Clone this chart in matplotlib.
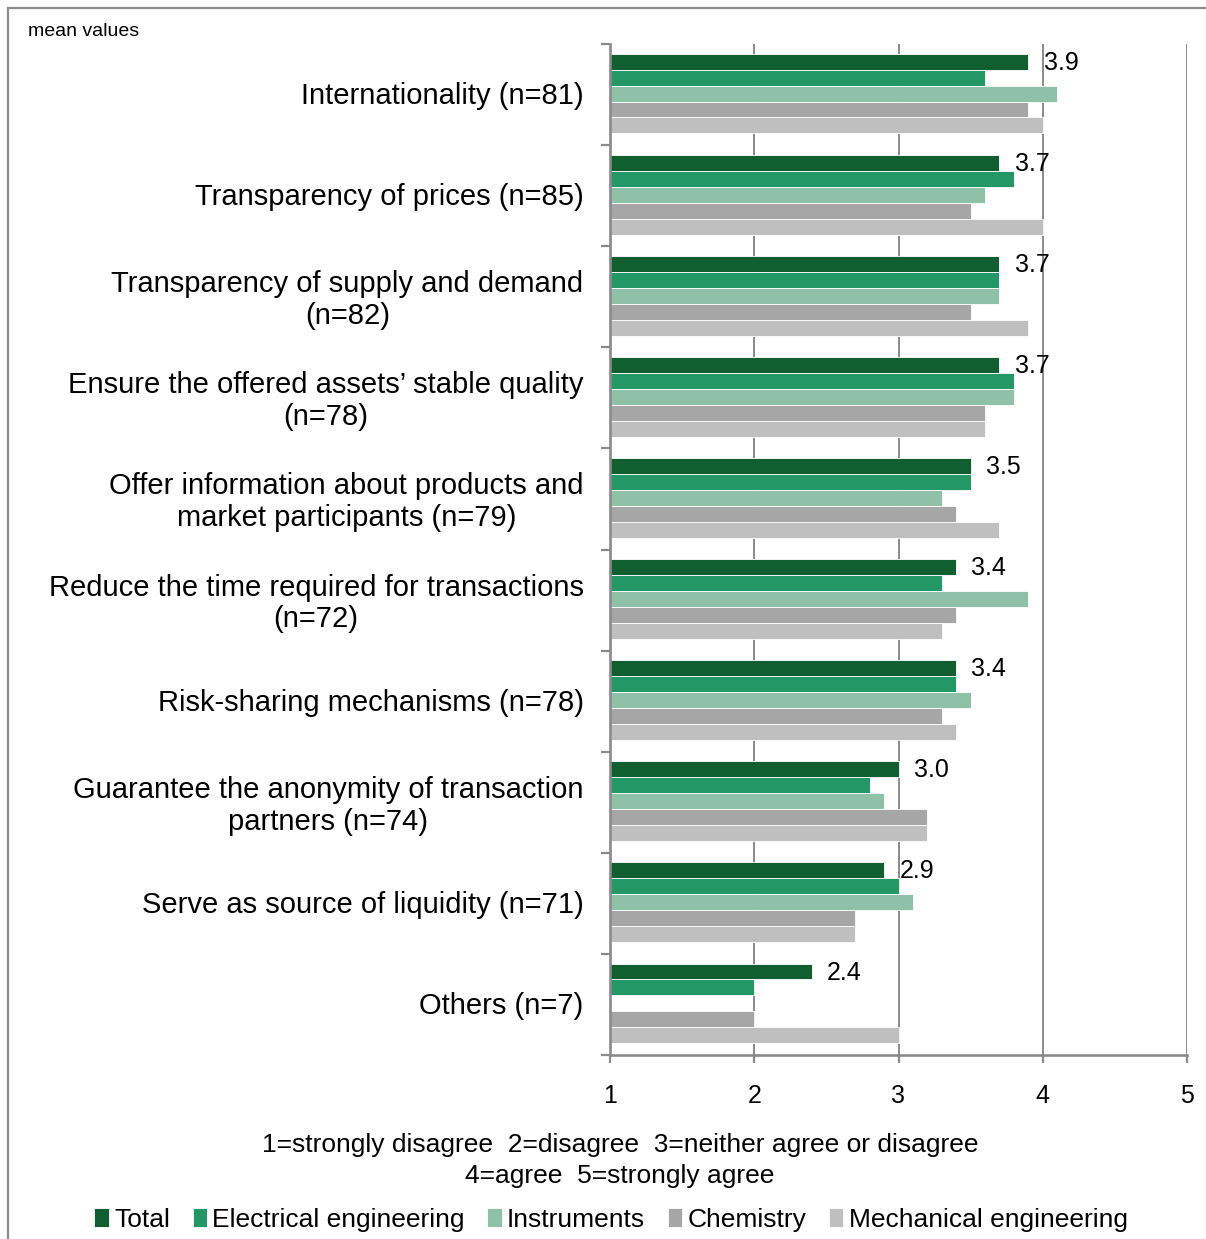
import numpy as np
import matplotlib.pyplot as plt
from matplotlib.patches import Rectangle

plt.rcParams['font.family'] = ['Liberation Sans', 'DejaVu Sans']

categories = [
    "Internationality (n=81)",
    "Transparency of prices (n=85)",
    "Transparency of supply and demand\n(n=82)",
    "Ensure the offered assets\u2019 stable quality\n(n=78)",
    "Offer information about products and\nmarket participants (n=79)",
    "Reduce the time required for transactions\n(n=72)",
    "Risk-sharing mechanisms (n=78)",
    "Guarantee the anonymity of transaction\npartners (n=74)",
    "Serve as source of liquidity (n=71)",
    "Others (n=7)",
]
series_names = ["Total", "Electrical engineering", "Instruments", "Chemistry",
                "Mechanical engineering"]
total = [3.9, 3.7, 3.7, 3.7, 3.5, 3.4, 3.4, 3.0, 2.9, 2.4]
electrical = [3.6, 3.8, 3.7, 3.8, 3.5, 3.3, 3.4, 2.8, 3.0, 2.0]
instruments = [4.1, 3.6, 3.7, 3.8, 3.3, 3.9, 3.5, 2.9, 3.1, np.nan]
chemistry = [3.9, 3.5, 3.5, 3.6, 3.4, 3.4, 3.3, 3.2, 2.7, 2.0]
mechanical = [4.0, 4.0, 3.9, 3.6, 3.7, 3.3, 3.4, 3.2, 2.7, 3.0]
colors = ["#115e31", "#239765", "#8fc1a8", "#a6a6a6", "#bfbfbf"]
xticks = [1, 2, 3, 4, 5]

fig = plt.figure(figsize=(12.06, 12.39), dpi=100)
ax = fig.add_axes([610 / 1206, 1 - 1055 / 1239, 577 / 1206, 1011 / 1239])

# outer frame (only left/top edges are visible in the reference)
fig.patches.append(Rectangle((8 / 1206, -0.1), 1.5, 1 - 8 / 1239 + 0.1,
                             transform=fig.transFigure, fill=False,
                             edgecolor="#8c8c8c", linewidth=1.6))

all_series = [total, electrical, instruments, chemistry, mechanical]
n = len(categories)
y = np.arange(n)
bar_h = 0.158
for i, (vals, name, c) in enumerate(zip(all_series, series_names, colors)):
    offs = (i - 2) * bar_h
    ax.barh(y + offs - 0.01, vals, height=bar_h, color=c, edgecolor="white",
            linewidth=0.6, label=name, zorder=2)

for yi, v in zip(y, total):
    ax.annotate(f"{v:.1f}", (v, yi - 2 * bar_h), xytext=(11, 0),
                textcoords="offset points", ha="left", va="center",
                fontsize=18, color="black", zorder=3)

ax.set_xlim(1, 5)
ax.set_ylim(n - 0.5, -0.5)
ax.set_xticks(xticks)
ax.set_xticklabels([str(t) for t in xticks], fontsize=18)
ax.set_yticks(y - 0.015)
ax.set_yticklabels(categories, fontsize=21, linespacing=1.18)
for t in ax.get_yticklabels():
    t.set_multialignment("center")
ax.set_yticks(np.arange(n + 1) - 0.5, minor=True)

gc = "#8a8a8a"
ax.tick_params(axis="y", which="major", length=0, pad=19)
ax.tick_params(axis="y", which="minor", length=6.5, width=1.6, color=gc)
ax.tick_params(axis="x", which="major", length=6, width=1.6, color=gc, pad=15)

ax.grid(axis="x", color=gc, linewidth=1.4)
ax.set_axisbelow(True)
for s in ["top", "right"]:
    ax.spines[s].set_visible(False)
for s in ["left", "bottom"]:
    ax.spines[s].set_color(gc)
    ax.spines[s].set_linewidth(1.9)

fig.text(28 / 1206, 1 - 31 / 1239, "mean values", fontsize=14, ha="left", va="center")
fig.text(620 / 1206, 1 - 1145 / 1239, "1=strongly disagree  2=disagree  3=neither agree or disagree",
         fontsize=19, ha="center", va="center")
fig.text(620 / 1206, 1 - 1176 / 1239, "4=agree  5=strongly agree",
         fontsize=19, ha="center", va="center")

fig.legend(loc="center", bbox_to_anchor=(611 / 1206, 1 - 1220 / 1239), ncol=5,
           frameon=False, fontsize=19, handlelength=0.55, handleheight=0.75,
           handletextpad=0.2, columnspacing=0.85, borderpad=0)

fig.savefig("out.png", dpi=100)
